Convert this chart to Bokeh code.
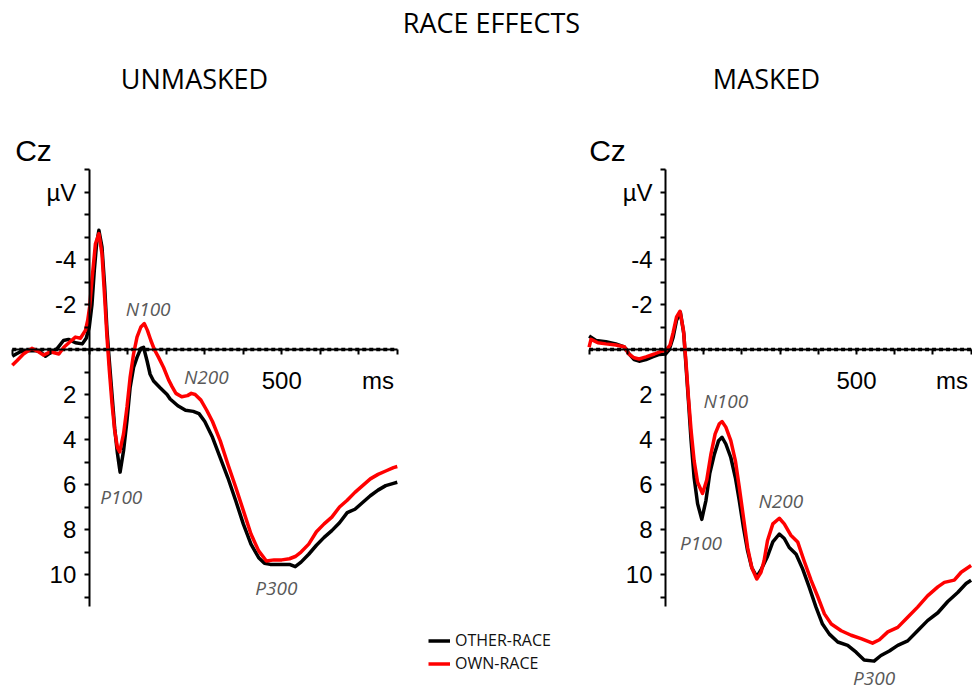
from bokeh.plotting import figure
from bokeh.models import (Range1d, LinearAxis, FixedTicker, Label, Legend,
                          LegendItem)
from bokeh.embed import file_html
from bokeh.resources import INLINE

# ---------------- data (ms, µV; negative plotted up) ----------------
unmasked_other_t = [-200, -190, -179, -165, -153, -140, -127, -114, -101, -83,
                    -67, -54, -36, -18, -8, 0, 7, 13, 19, 25,
                    33, 40, 46, 52, 59, 66, 73, 80, 89, 98,
                    106, 115, 124, 134, 141, 150, 158, 167, 184, 202,
                    210, 230, 250, 270, 285, 300, 320, 340, 360, 380,
                    400, 420, 440, 455, 470, 500, 520, 535, 550, 570,
                    590, 610, 630, 650, 670, 690, 710, 730, 750, 770,
                    790, 800]
unmasked_other_v = [0.3, 0.2, 0.1, 0.05, 0.05, 0.05, 0.1, 0.3, 0.15, -0.05,
                    -0.4, -0.45, -0.3, -0.25, -0.5, -1.0, -2.0, -3.5, -4.7, -5.3,
                    -4.55, -2.8, -0.85, 0.5, 2.0, 3.5, 4.6, 5.45, 4.5, 3.15,
                    1.7, 0.8, 0.35, -0.05, -0.1, 0.5, 1.1, 1.4, 1.7, 2.0,
                    2.2, 2.5, 2.7, 2.75, 2.85, 3.2, 3.9, 4.8, 5.7, 6.7,
                    7.75, 8.65, 9.25, 9.5, 9.55, 9.55, 9.55, 9.65, 9.45, 9.1,
                    8.7, 8.35, 8.05, 7.7, 7.25, 7.1, 6.8, 6.5, 6.25, 6.05,
                    5.95, 5.9]

unmasked_own_t = [-200, -188, -171, -149, -132, -119, -101, -79, -66, -53,
                  -36, -23, -10, -4, 1, 7, 16, 25, 33, 40,
                  46, 52, 59, 66, 73, 79, 89, 98, 106, 115,
                  124, 134, 143, 151, 160, 169, 180, 193, 206, 215,
                  225, 240, 255, 265, 275, 290, 305, 320, 340, 360,
                  380, 400, 420, 440, 460, 480, 500, 520, 535, 550,
                  570, 590, 610, 630, 650, 670, 690, 710, 730, 750,
                  770, 790, 800]
unmasked_own_v = [0.7, 0.5, 0.2, -0.05, 0.1, 0.25, 0.1, 0.2, -0.1, -0.3,
                  -0.55, -0.5, -0.85, -1.3, -1.9, -3.1, -4.7, -5.15, -4.25, -2.3,
                  -0.55, 0.9, 2.4, 3.6, 4.35, 4.55, 3.75, 2.55, 1.25, 0.2,
                  -0.55, -1.0, -1.15, -0.85, -0.4, 0.0, 0.35, 0.8, 1.35, 1.65,
                  1.95, 2.1, 2.05, 1.95, 2.0, 2.25, 2.7, 3.2, 4.05, 5.1,
                  6.1, 7.15, 8.2, 8.95, 9.4, 9.35, 9.35, 9.3, 9.2, 9.0,
                  8.65, 8.1, 7.75, 7.45, 7.0, 6.7, 6.35, 6.05, 5.75, 5.55,
                  5.4, 5.25, 5.2]

masked_other_t = [-200, -182, -156, -130, -108, -95, -82, -69, -51, -34,
                  -16, 0, 10, 20, 29, 39, 48, 54, 60, 67,
                  75, 84, 95, 106, 116, 128, 139, 148, 158, 171,
                  183, 193, 204, 215, 226, 239, 250, 267, 281, 298,
                  311, 324, 342, 359, 376, 394, 411, 429, 451, 477,
                  499, 520, 546, 564, 586, 608, 634, 660, 686, 713,
                  739, 765, 787, 800]
masked_other_v = [-0.6, -0.4, -0.35, -0.25, -0.12, 0.2, 0.45, 0.52, 0.45, 0.33,
                  0.22, 0.2, 0.0, -0.55, -1.3, -1.65, -0.7, 0.8, 2.25, 4.05,
                  5.7, 6.85, 7.55, 6.7, 5.5, 4.65, 4.05, 3.9, 4.2, 4.8,
                  5.7, 6.7, 7.9, 8.95, 9.7, 10.1, 9.8, 9.2, 8.55, 8.2,
                  8.4, 8.8, 9.1, 9.75, 10.55, 11.45, 12.2, 12.65, 13.0, 13.15,
                  13.45, 13.8, 13.85, 13.6, 13.4, 13.15, 12.95, 12.5, 12.05, 11.7,
                  11.2, 10.8, 10.4, 10.25]

masked_own_t = [-200, -195, -177, -156, -130, -108, -96, -82, -69, -51,
                -29, -12, 1, 12, 20, 29, 38, 47, 54, 60,
                67, 75, 84, 97, 108, 119, 130, 141, 148, 158,
                171, 183, 193, 204, 215, 226, 239, 250, 258, 267,
                281, 298, 311, 328, 346, 363, 381, 399, 416, 434,
                460, 486, 512, 542, 560, 582, 608, 634, 660, 686,
                713, 730, 756, 774, 800]
masked_own_v = [-0.1, -0.45, -0.3, -0.25, -0.2, -0.12, 0.2, 0.37, 0.42, 0.33,
                0.2, 0.08, 0.05, -0.2, -0.75, -1.45, -1.7, -0.85, 0.65, 2.1,
                3.6, 4.95, 5.9, 6.4, 5.8, 4.65, 3.75, 3.3, 3.2, 3.45,
                4.05, 4.95, 6.1, 7.45, 8.8, 9.7, 10.2, 9.9, 9.4, 8.5,
                7.75, 7.5, 7.75, 8.25, 8.55, 9.4, 10.25, 11.0, 11.75, 12.2,
                12.5, 12.7, 12.85, 13.05, 12.9, 12.55, 12.35, 11.9, 11.45, 10.95,
                10.55, 10.35, 10.25, 9.9, 9.6]

series_labels = ["OTHER-RACE", "OWN-RACE"]
panel_titles = ["UNMASKED", "MASKED"]
main_title = "RACE EFFECTS"
electrode = "Cz"

x_label_ticks = [500, 750]
x_label_text = {500: "500", 750: "ms"}
x_minor_ticks = [-200, -100, 0, 100, 200, 300, 400, 500, 600, 700, 800]
y_label_ticks = [-7, -4, -2, 2, 4, 6, 8, 10]
y_label_text = {-7: "µV", -4: "-4", -2: "-2", 2: "2", 4: "4", 6: "6", 8: "8", 10: "10"}
y_minor_ticks = list(range(-8, 12))

# components: (label, ms, µV)
unmasked_components = [("N100", 153, -1.8), ("N200", 304, 1.2),
                       ("P100", 83, 6.55), ("P300", 486, 10.6)]
masked_components = [("N100", 158, 2.27), ("N200", 302, 6.75),
                     ("P100", 93, 8.6), ("P300", 546, 14.6)]

# ---------------- figure ----------------
W, H = 972, 694
p = figure(width=W, height=H, output_backend="svg", toolbar_location=None,
           x_axis_type=None, y_axis_type=None, min_border=0,
           x_range=Range1d(-230.6, 2294.1),
           y_range=Range1d(15.333, -15.511))
p.outline_line_color = None
p.background_fill_color = "white"
p.border_fill_color = "white"
p.extra_x_ranges = {"masked": Range1d(-1740.8, 803.7), "px": Range1d(0, W)}
p.extra_y_ranges = {"py": Range1d(H, 0)}

BLACK = "#000000"
RED = "#ff0000"
TICK_FONT = "Liberation Sans"
LW = 3.5


def add_axes(xr):
    xa = LinearAxis(x_range_name=xr, fixed_location=0, bounds=(-200, 800),
                    ticker=FixedTicker(ticks=x_label_ticks, minor_ticks=x_minor_ticks),
                    major_label_overrides=x_label_text)
    ya = LinearAxis(x_range_name=xr, fixed_location=0, bounds=(-8, 11.4),
                    ticker=FixedTicker(ticks=y_label_ticks, minor_ticks=y_minor_ticks),
                    major_label_overrides=y_label_text)
    for ax in (xa, ya):
        ax.axis_line_width = 2
        ax.axis_line_color = BLACK
        ax.major_tick_out = 0
        ax.major_tick_in = 0
        ax.minor_tick_out = 5
        ax.minor_tick_in = 0
        ax.minor_tick_line_width = 2
        ax.minor_tick_line_color = BLACK
        ax.major_label_text_font = TICK_FONT
        ax.major_label_text_font_size = "24px"
        ax.major_label_text_color = BLACK
    xa.major_label_standoff = 12
    ya.major_label_standoff = 8
    p.add_layout(xa, "below")
    p.add_layout(ya, "left")
    # dashed look of the zero line
    p.line(x=[xa.bounds[0], xa.bounds[1]], y=[0, 0], x_range_name=xr,
           line_color=BLACK, line_width=3.5, line_dash="4 3")


add_axes("default")
add_axes("masked")

r_uo = p.line(unmasked_other_t, unmasked_other_v, line_color=BLACK, line_width=LW,
              line_join="round")
r_uw = p.line(unmasked_own_t, unmasked_own_v, line_color=RED, line_width=LW,
              line_join="round")
r_mo = p.line(masked_other_t, masked_other_v, line_color=BLACK, line_width=LW,
              line_join="round", x_range_name="masked")
r_mw = p.line(masked_own_t, masked_own_v, line_color=RED, line_width=LW,
              line_join="round", x_range_name="masked")

# component labels
for comps, xr in ((unmasked_components, "default"), (masked_components, "masked")):
    for name, t, v in comps:
        p.add_layout(Label(x=t, y=v, x_range_name=xr, text=name,
                           text_font="Open Sans", text_font_style="italic",
                           text_font_size="19px", text_color="#595959",
                           text_align="center", text_baseline="middle"))


# page texts
def page_text(txt, x, y, size, font="Open Sans", align="center"):
    p.add_layout(Label(x=x, y=y, x_range_name="px", y_range_name="py", text=txt,
                       text_font=font, text_font_size=size, text_color="black",
                       text_align=align, text_baseline="middle"))


page_text(main_title, 491, 22, "27px")
page_text(panel_titles[0], 194, 78, "27px")
page_text(panel_titles[1], 766, 78, "27px")
page_text(electrode, 33, 150, "30px", font=TICK_FONT)
page_text(electrode, 607, 150, "30px", font=TICK_FONT)

legend = Legend(items=[LegendItem(label=series_labels[0], renderers=[r_uo]),
                       LegendItem(label=series_labels[1], renderers=[r_uw])],
                location=(428, 19.5), orientation="vertical")
legend.label_text_font = "Open Sans"
legend.label_text_font_size = "16px"
legend.label_text_color = "#111111"
legend.glyph_width = 22
legend.glyph_height = 23
legend.label_height = 23
legend.label_standoff = 5
legend.spacing = 0
legend.padding = 0
legend.margin = 0
legend.border_line_color = None
legend.background_fill_alpha = 0
p.add_layout(legend, "center")

open("out.html", "w").write(file_html(p, INLINE))
